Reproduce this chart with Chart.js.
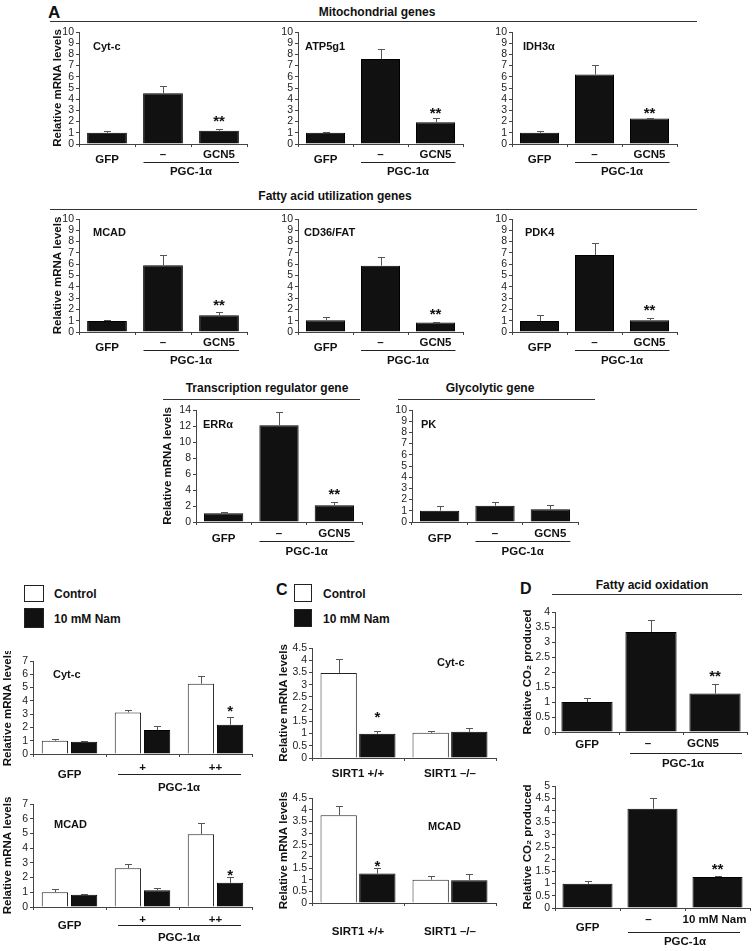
<!DOCTYPE html>
<html><head><meta charset="utf-8">
<script src="https://cdn.jsdelivr.net/npm/chart.js@4.4.0/dist/chart.umd.min.js"></script>
<style>
html,body{margin:0;padding:0;background:#fff}
body{width:752px;height:951px;position:relative;overflow:hidden;font-family:"Liberation Sans",Arial,sans-serif;color:#111}
canvas{position:absolute}
.tx{position:absolute;font-weight:bold;white-space:nowrap;line-height:1}
.ln{position:absolute;height:0;border-top:1.5px solid #333}
.bx{position:absolute;box-sizing:border-box;border:1px solid #222}
</style>
</head><body>
<script>
// ---------- data ----------
const catsA = ['GFP', 'PGC-1α', 'PGC-1α + GCN5'];
const cytcVals = [1.0, 4.54, 1.19],  cytcErr = [0.15, 0.65, 0.12];
const atpVals  = [1.0, 7.58, 1.94],  atpErr  = [0.10, 0.90, 0.36];
const idhVals  = [1.0, 6.2, 2.27],   idhErr  = [0.16, 0.84, 0.06];
const mcadVals = [0.98, 5.9, 1.48],  mcadErr = [0.12, 0.95, 0.30];
const cd36Vals = [1.04, 5.87, 0.83], cd36Err = [0.26, 0.73, 0.06];
const pdk4Vals = [0.98, 6.82, 1.04], pdk4Err = [0.56, 1.04, 0.21];
const erraVals = [1.08, 12.1, 2.1],  erraErr = [0.12, 1.7, 0.36];
const pkVals   = [1.01, 1.46, 1.13], pkErr   = [0.42, 0.33, 0.36];

const catsB = ['GFP', 'PGC-1α +', 'PGC-1α ++'];
const bCytcCtrl = [1.0, 3.13, 5.29], bCytcCtrlErr = [0.15, 0.20, 0.60];
const bCytcNam  = [0.93, 1.8, 2.2],  bCytcNamErr  = [0.07, 0.33, 0.56];
const bMcadCtrl = [1.0, 2.64, 4.95], bMcadCtrlErr = [0.20, 0.26, 0.73];
const bMcadNam  = [0.84, 1.14, 1.64], bMcadNamErr = [0.07, 0.16, 0.41];

const catsC = ['SIRT1 +/+', 'SIRT1 –/–'];
const cCytcCtrl = [3.48, 1.03], cCytcCtrlErr = [0.57, 0.08];
const cCytcNam  = [0.99, 1.07], cCytcNamErr  = [0.12, 0.15];
const cMcadCtrl = [3.76, 1.0],  cMcadCtrlErr = [0.38, 0.14];
const cMcadNam  = [1.26, 0.97], cMcadNamErr  = [0.24, 0.29];

const catsD1 = ['GFP', 'PGC-1α', 'PGC-1α + GCN5'];
const dGcn5Vals = [1.0, 3.33, 1.28], dGcn5Err = [0.15, 0.39, 0.31];
const catsD2 = ['GFP', 'PGC-1α', 'PGC-1α + 10 mM Nam'];
const dNamVals = [0.99, 4.07, 1.27], dNamErr = [0.10, 0.43, 0.04];

const ticksA = {min: 0, max: 10, step: 1};
const ticksE = {min: 0, max: 14, step: 2};
const ticksB = {min: 0, max: 7, step: 1};
const ticksC = {min: 0, max: 4.5, step: 0.5};
const ticksD1 = {min: 0, max: 4, step: 0.5};
const ticksD2 = {min: 0, max: 5, step: 0.5};

// ---------- static text ----------
const FONT = '"Liberation Sans", Arial, sans-serif';
function txt(t, x, y, size, align) {
  const d = document.createElement('div');
  d.className = 'tx'; d.textContent = t;
  d.style.fontSize = size + 'px';
  d.style.left = x + 'px'; d.style.top = y + 'px';
  d.style.transform = align === 'left' ? 'translate(0,-50%)' : 'translate(-50%,-50%)';
  document.body.appendChild(d);
}
function line(x1, x2, y) {
  const d = document.createElement('div');
  d.className = 'ln';
  d.style.left = x1 + 'px'; d.style.width = (x2 - x1) + 'px'; d.style.top = y + 'px';
  document.body.appendChild(d);
}
function box(x, y, w, h, fill) {
  const d = document.createElement('div');
  d.className = 'bx';
  d.style.left = x + 'px'; d.style.top = y + 'px'; d.style.width = w + 'px'; d.style.height = h + 'px';
  d.style.background = fill;
  document.body.appendChild(d);
}
txt('A', 48, 12, 17, 'left');
txt('Mitochondrial genes', 377, 12, 12);
line(50, 697, 21);
txt('Fatty acid utilization genes', 335, 196, 12);
line(50, 697, 209);
txt('Transcription regulator gene', 267, 388, 12);
line(163, 360, 399);
txt('Glycolytic gene', 490, 388, 12);
line(398, 595, 399);
txt('C', 276, 590, 16, 'left');
txt('D', 520, 589, 16, 'left');
txt('Fatty acid oxidation', 652, 585, 12);
line(552, 742, 594);
box(24, 585, 20, 17, '#fff'); txt('Control', 54, 594, 12, 'left');
box(24, 608, 20, 20, '#111'); txt('10 mM Nam', 54, 619, 12, 'left');
box(294, 584, 18, 18, '#fff'); txt('Control', 323, 594, 12, 'left');
box(294, 609, 18, 18, '#111'); txt('10 mM Nam', 323, 619, 12, 'left');

// ---------- charts ----------
const BLACK = '#111';
function S(v, e) { return {data: v, err: e, backgroundColor: BLACK, borderColor: '#000', borderWidth: 1}; }
function O(v, e) { return {data: v, err: e, backgroundColor: '#fff', borderColor: '#222', borderWidth: 1}; }

function underGCN(g, t, l, p, opt) {
  opt = opt || {};
  return [
    {t: 'GFP', at: [0], dy: g},
    {t: '–', at: [1], dy: t, dx: opt.mdx || 0},
    {t: opt.third || 'GCN5', at: [2], dy: t, dx: opt.gdx || 0},
    {line: [1, 2, opt.ll || -19.5, opt.lr || 20], dy: l},
    {t: 'PGC-1α', at: [1, 2], dy: p}
  ];
}
function underB(plus, g, l, p) {
  return [
    {t: 'GFP', at: [0], dy: g},
    {t: '+', at: [1], dy: plus},
    {t: '++', at: [2], dy: plus},
    {line: [1, 2, -24.5, 25.5], dy: l},
    {t: 'PGC-1α', at: [1, 2], dy: p}
  ];
}
function underC(d) { return [{t: catsC[0], at: [0], dy: d}, {t: catsC[1], at: [1], dy: d}]; }

const MRNA = 'Relative mRNA levels';
const CO2 = 'Relative CO₂ produced';
const specs = [
  {L: 79, T: 32, R: 247, B: 144, tx: 58, title: MRNA, cats: catsA, sets: [S(cytcVals, cytcErr)], y: ticksA,
   gene: ['Cyt-c', 93, 47], stars: [[0, 2, '**', -12]], under: underGCN(16, 10.5, 18, 28), bp: 0.71, cp: 1},
  {L: 298, T: 32, R: 463, B: 144, cats: catsA, sets: [S(atpVals, atpErr)], y: ticksA,
   gene: ['ATP5g1', 305, 47], stars: [[0, 2, '**', -9]], under: underGCN(16, 10.5, 18, 28), bp: 0.71, cp: 1},
  {L: 512, T: 32, R: 677, B: 144, cats: catsA, sets: [S(idhVals, idhErr)], y: ticksA,
   gene: ['IDH3α', 523, 47], stars: [[0, 2, '**', -9]], under: underGCN(16, 10.5, 18, 28), bp: 0.71, cp: 1},
  {L: 79, T: 219, R: 247, B: 332, tx: 58, title: MRNA, cats: catsA, sets: [S(mcadVals, mcadErr)], y: ticksA,
   gene: ['MCAD', 93, 233], stars: [[0, 2, '**', -10]], under: underGCN(16, 10.5, 18, 29), bp: 0.71, cp: 1},
  {L: 298, T: 219, R: 463, B: 332, cats: catsA, sets: [S(cd36Vals, cd36Err)], y: ticksA,
   gene: ['CD36/FAT', 304, 233], stars: [[0, 2, '**', -12]], under: underGCN(16, 10.5, 18, 29), bp: 0.71, cp: 1},
  {L: 512, T: 219, R: 677, B: 332, cats: catsA, sets: [S(pdk4Vals, pdk4Err)], y: ticksA,
   gene: ['PDK4', 525, 233], stars: [[0, 2, '**', -11]], under: underGCN(16, 10.5, 18, 29), bp: 0.71, cp: 1},
  {L: 196, T: 410, R: 362, B: 522, tx: 168, title: MRNA, cats: catsA, sets: [S(erraVals, erraErr)], y: ticksE,
   gene: ['ERRα', 203, 425], stars: [[0, 2, '**', -11.5]], under: underGCN(17, 12, 19, 30), bp: 0.71, cp: 1},
  {L: 412, T: 410, R: 578, B: 522, cats: catsA, sets: [S(pkVals, pkErr)], y: ticksA,
   gene: ['PK', 421, 425], stars: [], under: underGCN(17, 12, 19, 30), bp: 0.71, cp: 1},
  {L: 33, T: 661, R: 252, B: 754, tx: 8, title: MRNA, cats: catsB,
   sets: [O(bCytcCtrl, bCytcCtrlErr), S(bCytcNam, bCytcNamErr)], y: ticksB,
   gene: ['Cyt-c', 53, 675], stars: [[1, 2, '*', -10]], under: underB(14, 21, 20, 34), bp: 0.9, cp: 0.8},
  {L: 33, T: 804, R: 252, B: 907, tx: 8, title: MRNA, cats: catsB,
   sets: [O(bMcadCtrl, bMcadCtrlErr), S(bMcadNam, bMcadNamErr)], y: ticksB,
   gene: ['MCAD', 54, 825], stars: [[1, 2, '*', -5]], under: underB(13, 19, 18, 31), bp: 0.9, cp: 0.8},
  {L: 312, T: 648, R: 496, B: 758, tx: 284, title: MRNA, cats: catsC,
   sets: [O(cCytcCtrl, cCytcCtrlErr), S(cCytcNam, cCytcNamErr)], y: ticksC,
   gene: ['Cyt-c', 437, 663], stars: [[1, 0, '*', -17]], under: underC(16), bp: 0.94, cp: 0.84},
  {L: 312, T: 798, R: 496, B: 903, tx: 284, title: MRNA, cats: catsC,
   sets: [O(cMcadCtrl, cMcadCtrlErr), S(cMcadNam, cMcadNamErr)], y: ticksC,
   gene: ['MCAD', 428, 827], stars: [[1, 0, '*', -6]], under: underC(29), bp: 0.94, cp: 0.84},
  {L: 555, T: 612, R: 747, B: 732, tx: 528, title: CO2, cats: catsD1, sets: [S(dGcn5Vals, dGcn5Err)], y: ticksD1,
   stars: [[0, 2, '**', -12]], under: underGCN(13, 12, 21, 32, {gdx: -12, mdx: -3, ll: -21, lr: 27}), bp: 0.8, cp: 1, padR: 3},
  {L: 555, T: 786, R: 750, B: 908, tx: 528, title: CO2, cats: catsD2, sets: [S(dNamVals, dNamErr)], y: ticksD2,
   stars: [[0, 2, '**', -11]], under: underGCN(20, 12, 24, 34, {third: '10 mM Nam', gdx: -3, mdx: -4, ll: -24.5, lr: 22.5}), bp: 0.77, cp: 1, padR: 1}
];

Chart.defaults.font.family = FONT;
Chart.defaults.color = '#222';

function draw(sp) {
  const padR = sp.padR != null ? sp.padR : 6;
  const left = sp.tx != null ? Math.round(sp.tx - 6.9) : sp.L - 26;
  const top = sp.T - 10;
  const W = sp.R + padR - left;
  const XH = 46;
  const H = sp.B + XH - top;
  const c = document.createElement('canvas');
  c.width = W; c.height = H;
  c.style.left = left + 'px'; c.style.top = top + 'px';
  c.style.width = W + 'px'; c.style.height = H + 'px';
  document.body.appendChild(c);

  const annot = {
    id: 'annot',
    afterDatasetsDraw(chart) {
      const ctx = chart.ctx, ys = chart.scales.y, xs = chart.scales.x;
      ctx.save();
      // error bars
      chart.data.datasets.forEach((ds, di) => {
        const meta = chart.getDatasetMeta(di);
        meta.data.forEach((el, i) => {
          const v = ds.data[i], e = ds.err[i];
          const y0 = ys.getPixelForValue(v);
          const y1 = Math.round(ys.getPixelForValue(v + e)) + 0.5;
          const x = Math.round(el.x) + 0.5;
          ctx.strokeStyle = '#555'; ctx.lineWidth = 1;
          ctx.beginPath();
          ctx.moveTo(x, y0); ctx.lineTo(x, y1);
          ctx.moveTo(x - 3.5, y1); ctx.lineTo(x + 3.5, y1);
          ctx.stroke();
        });
      });
      // stars
      ctx.fillStyle = '#111';
      ctx.textAlign = 'center'; ctx.textBaseline = 'alphabetic';
      ctx.font = 'bold 15px ' + FONT;
      sp.stars.forEach(([di, i, t, off]) => {
        const ds = chart.data.datasets[di];
        const el = chart.getDatasetMeta(di).data[i];
        const yt = ys.getPixelForValue(ds.data[i] + ds.err[i]);
        ctx.fillText(t, el.x, yt + off + 8.6);
      });
      // gene label
      ctx.font = 'bold 11px ' + FONT;
      ctx.textBaseline = 'middle';
      if (sp.gene) {
        ctx.textAlign = 'left';
        ctx.fillText(sp.gene[0], sp.gene[1] - left, sp.gene[2] - top);
      }
      // category labels below axis
      ctx.font = 'bold 11.5px ' + FONT;
      const base = ys.getPixelForValue(0);
      sp.under.forEach(u => {
        if (u.line) {
          const [a, b, l, r] = u.line;
          const xa = xs.getPixelForValue(a) + l, xb = xs.getPixelForValue(b) + r;
          const yy = Math.round(base + u.dy) + 0.5;
          ctx.strokeStyle = '#222'; ctx.lineWidth = 1;
          ctx.beginPath(); ctx.moveTo(xa, yy); ctx.lineTo(xb, yy); ctx.stroke();
        } else {
          const xc = u.at.reduce((s, k) => s + xs.getPixelForValue(k), 0) / u.at.length + (u.dx || 0);
          ctx.textAlign = 'center';
          ctx.fillText(u.t, xc, base + u.dy);
        }
      });
      ctx.restore();
    }
  };

  new Chart(c, {
    type: 'bar',
    data: {
      labels: sp.cats,
      datasets: sp.sets.map(s => Object.assign({barPercentage: sp.bp, categoryPercentage: sp.cp, borderSkipped: 'start'}, s))
    },
    options: {
      responsive: false, animation: false, devicePixelRatio: 1,
      layout: {padding: {top: 10, right: padR, left: 0, bottom: 0}},
      plugins: {legend: {display: false}, tooltip: {enabled: false}},
      scales: {
        x: {
          ticks: {display: false},
          grid: {display: true, drawOnChartArea: false, drawTicks: true, tickLength: 3, color: '#444', offset: true},
          border: {color: '#444', width: 1},
          afterFit: s => { s.height = XH; }
        },
        y: {
          min: sp.y.min, max: sp.y.max,
          ticks: {stepSize: sp.y.step, autoSkip: false, font: {size: 10.5}, color: '#222', padding: 2,
                  callback: v => String(+(+v).toFixed(2))},
          grid: {drawOnChartArea: false, drawTicks: true, tickLength: 3, color: '#444'},
          border: {color: '#444', width: 1},
          title: {display: !!sp.title, text: sp.title || '', font: {size: 11.5, weight: 'bold'}, color: '#111', padding: 0},
          afterFit: s => { s.width = sp.L - left; }
        }
      }
    },
    plugins: [annot]
  });
}
specs.forEach(draw);
</script>
</body></html>
